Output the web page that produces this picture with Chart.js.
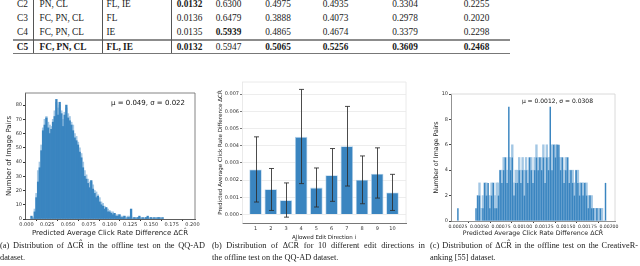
<!DOCTYPE html>
<html>
<head>
<meta charset="utf-8">
<script src="https://cdn.jsdelivr.net/npm/chart.js@4.4.1/dist/chart.umd.min.js"></script>
<style>
  html, body { margin:0; padding:0; background:#fff; }
  body { width:640px; height:266px; position:relative; overflow:hidden; font-family:"Liberation Serif", serif; color:#1a1a1a; }
  .cell { position:absolute; font-size:9.3px; line-height:10px; white-space:nowrap; }
  .rule { position:absolute; }
  canvas { position:absolute; }
  .cap { position:absolute; font-size:8.3px; line-height:9px; white-space:nowrap; }
  .cap.full { text-align:justify; text-align-last:justify; }
</style>
</head>
<body>
<div id="table"></div>
<canvas id="histA" width="205" height="155" style="left:0;top:87px"></canvas>
<canvas id="barB" width="198" height="167" style="left:212px;top:76px"></canvas>
<canvas id="histC" width="195" height="155" style="left:430px;top:86px"></canvas>

<div class="cap full" style="left:0;top:241px;width:205px">(a) Distribution of ΔCR̂ in the offline test on the QQ-AD</div>
<div class="cap" style="left:0;top:253px">dataset.</div>
<div class="cap full" style="left:212px;top:241px;width:213px">(b) Distribution of ΔCR̂ for 10 different edit directions in</div>
<div class="cap" style="left:212px;top:253px">the offline test on the QQ-AD dataset.</div>
<div class="cap full" style="left:430px;top:241px;width:208px">(c) Distribution of ΔCR̂ in the offline test on the CreativeR-</div>
<div class="cap" style="left:430px;top:253px">anking [55] dataset.</div>

<script>
Chart.defaults.font.family = "DejaVu Sans";
Chart.defaults.color = "#333";
Chart.defaults.animation = false;

// ---- table rows (top of page, cropped) ----
const TABLE_ROWS = [
  ["C2", "PN, CL",     "FL, IE", "0.0132", "0.6300", "0.4975", "0.4935", "0.3304", "0.2255"],
  ["C3", "FC, PN, CL", "FL",     "0.0136", "0.6479", "0.3888", "0.4073", "0.2978", "0.2020"],
  ["C4", "FC, PN, CL", "IE",     "0.0135", "0.5939", "0.4865", "0.4674", "0.3379", "0.2298"],
  ["C5", "FC, PN, CL", "FL, IE", "0.0132", "0.5947", "0.5065", "0.5256", "0.3609", "0.2468"]
];
const TABLE_BOLD = [[3], [], [4], [0, 1, 2, 3, 5, 6, 7, 8]];

// ---- (a) QQ-AD histogram, bin centres in 1e-3 ----
const A_BINS = [6,8,10,12,14,16,18,20,22,24,26,28,30,32,34,36,38,40,42,44,46,48,50,52,54,56,58,60,62,64,66,68,70,72,74,76,78,80,82,84,86,88,90,92,94,96,98,100,102,104,106,108,110,112,114,116,118,120,122,124,126,128,130,132,134,136,138,140,142,144,146,148,150,152,154,156,158,160,162,164];
const A_DARK = [2,0,5,15,26,36,48,62,66,71,64,60,63,68,72,84,73,82,74,65,73,80,71,69,66,62,57,55,52,47,43,36,30,28,25,22,27,21,18,15,16,12,10,9,7,8,5,5,4,3,4,2,2,3,1,1,2,0,1,1,7,0,1,0,1,2,0,1,0,1,2,0,1,0,1,0,1,1,0,1];
const A_LIGHT = [0,1,7,18,34,40,52,64,70,72,68,66,65,70,76,82,78,80,76,70,75,78,74,72,68,66,60,58,54,50,46,40,34,31,28,26,26,24,20,19,17,15,12,11,9,8,7,6,5,5,4,3,3,3,2,2,2,1,2,2,2,1,1,1,1,1,1,0,1,1,1,1,1,1,0,1,0,1,1,0];
const A_XTICKS = [0, 25, 50, 75, 100, 125, 150, 175, 200];

// ---- (b) per edit direction ----
const B_DIRS = [1, 2, 3, 4, 5, 6, 7, 8, 9, 10];
const B_MEAN = [0.00261, 0.00146, 0.00082, 0.00451, 0.00156, 0.00228, 0.00397, 0.00202, 0.00237, 0.00127];
const B_LOW  = [0.00072, 0.00023, -0.00016, 0.00179, 0.00043, 0.00076, 0.00165, 0.00062, 0.00095, 0.00023];
const B_HIGH = [0.00451, 0.00267, 0.00183, 0.00727, 0.00270, 0.00383, 0.00628, 0.00340, 0.00387, 0.00233];

// ---- (c) CreativeRanking histogram, bin centres in 1e-5 ----
const C_BINS = [25,46,48,50,52,54,56,58,60,62,64,66,68,70,72,74,76,78,80,82,84,86,88,90,92,94,96,98,100,102,104,106,108,110,112,114,116,118,120,122,124,126,128,130,132,134,136,138,140,142,144,146,148,150,152,154,156,158,160,162,164,166,168,170,172,174,176,178,180,182,184,186,188,190,192,194,196];
const C_DARK = [1,1,2,2,0,1,3,2,3,1,2,3,1,1,2,4,3,4,5,3,9,4,5,2,3,3,4,3,4,2,4,3,5,4,3,4,5,4,5,4,5,3,5,4,9,4,6,5,6,6,4,5,3,4,5,3,4,3,2,4,3,2,3,2,3,2,1,2,1,1,0,1,0,1,0,0,3];
const C_LIGHT = [0,0,2,3,1,2,3,3,2,2,3,3,2,3,3,4,4,5,5,4,5,5,6,3,4,4,5,4,5,4,5,4,5,5,4,5,6,5,5,5,6,5,6,5,5,6,6,6,6,5,5,5,4,5,5,4,4,4,3,4,4,3,3,3,3,3,2,2,2,1,1,1,1,0,1,0,0];

const DARK_BLUE = "#3a85c0";
const LIGHT_BLUE = "#a3c7e4";

// build table
const tableEl = document.getElementById("table");
const ROW_Y = [3.5, 17.5, 32, 46.5];
const COL_LEFT = [null, 39.5, 106.5];
const COL_CENTER = [22.5, null, null, 189.5, 228.5, 278, 335.5, 405, 476.5];
TABLE_ROWS.forEach((row, r) => {
  row.forEach((txt, c) => {
    const d = document.createElement("div");
    d.className = "cell";
    d.textContent = txt;
    if (TABLE_BOLD[r].includes(c)) d.style.fontWeight = "bold";
    d.style.top = (ROW_Y[r] - 5) + "px";
    if (COL_LEFT[c] != null) {
      d.style.left = COL_LEFT[c] + "px";
    } else {
      d.style.left = COL_CENTER[c] + "px";
      d.style.transform = "translateX(-50%)";
    }
    tableEl.appendChild(d);
  });
});
function rule(l, t, w, h, col) {
  const d = document.createElement("div");
  d.className = "rule";
  Object.assign(d.style, { left: l + "px", top: t + "px", width: w + "px", height: h + "px", background: col });
  tableEl.appendChild(d);
}
rule(13, 38.5, 497, 2, "#8c8c8c");
rule(13, 52.5, 497, 1, "#777");
rule(33, 0, 1, 53, "#555");
rule(101.5, 0, 1, 53, "#555");
rule(170.5, 0, 1, 53, "#555");

// plugins
const frame = {
  id: "frame",
  afterDraw(chart, args, opts) {
    const { ctx, chartArea: a } = chart;
    ctx.save();
    ctx.lineWidth = 0.8;
    ctx.strokeStyle = opts.color || "#555";
    ctx.beginPath();
    ctx.moveTo(a.left, a.top); ctx.lineTo(a.right, a.top); ctx.lineTo(a.right, a.bottom);
    ctx.stroke();
    ctx.restore();
  }
};
const note = {
  id: "note",
  afterDraw(chart, args, opts) {
    if (!opts.text) return;
    const { ctx, chartArea: a } = chart;
    ctx.save();
    ctx.font = opts.size + "px 'DejaVu Sans'";
    ctx.fillStyle = "#111";
    ctx.textAlign = "right";
    ctx.textBaseline = "middle";
    ctx.fillText(opts.text, a.right - opts.dx, a.top + opts.dy);
    ctx.restore();
  }
};
const errorBars = {
  id: "errorBars",
  afterDatasetsDraw(chart) {
    const { ctx, scales: { x, y } } = chart;
    ctx.save();
    ctx.strokeStyle = "rgba(45,45,45,0.85)";
    ctx.lineWidth = 1;
    B_DIRS.forEach((d, i) => {
      const px = Math.round(x.getPixelForValue(d)) + 0.5;
      const lo = y.getPixelForValue(B_LOW[i]);
      const hi = y.getPixelForValue(B_HIGH[i]);
      ctx.beginPath();
      ctx.moveTo(px, lo); ctx.lineTo(px, hi);
      ctx.moveTo(px - 2.5, lo); ctx.lineTo(px + 2.5, lo);
      ctx.moveTo(px - 2.5, hi); ctx.lineTo(px + 2.5, hi);
      ctx.stroke();
    });
    ctx.restore();
  }
};

function fixW(w) { return (s) => { s.width = w; }; }
function fixH(h) { return (s) => { s.height = h; }; }
const tickFont = { size: 5 };

// (a)
new Chart(document.getElementById("histA"), {
  type: "bar",
  data: {
    datasets: [
      { data: A_BINS.map((b, i) => ({ x: b, y: A_DARK[i] })), backgroundColor: DARK_BLUE, grouped: false, barPercentage: 1, categoryPercentage: 1 },
      { data: A_BINS.map((b, i) => ({ x: b, y: A_LIGHT[i] })), backgroundColor: LIGHT_BLUE, grouped: false, barPercentage: 1, categoryPercentage: 1 }
    ]
  },
  options: {
    responsive: false,
    layout: { padding: { top: 6, right: 10, left: 0, bottom: 0 } },
    plugins: { legend: { display: false }, tooltip: { enabled: false },
      note: { text: "μ = 0.049, σ = 0.022", size: 7, dx: 10, dy: 10 }, frame: { color: "#666" } },
    scales: {
      x: {
        type: "linear", offset: false, min: -1.8, max: 203,
        afterFit: fixH(23),
        afterBuildTicks: (s) => { s.ticks = A_XTICKS.map(v => ({ value: v })); },
        ticks: { font: tickFont, padding: 1, maxRotation: 0, autoSkip: false, callback: (v) => (v / 1000).toFixed(3) },
        grid: { drawOnChartArea: false, tickLength: 2, color: "#333" },
        border: { color: "#333", width: 0.8 },
        title: { display: true, text: "Predicted Average Click Rate Difference ΔCR̂", font: { size: 7 }, color: "#222", padding: { top: 0, bottom: 5 } }
      },
      y: {
        min: 0, max: 88.5,
        afterFit: fixW(25),
        ticks: { font: tickFont, padding: 1, stepSize: 10, includeBounds: false },
        grid: { drawOnChartArea: false, tickLength: 2, color: "#333" },
        border: { color: "#333", width: 0.8 },
        title: { display: true, text: "Number of Image Pairs", font: { size: 7 }, color: "#222", padding: { top: 5, bottom: 0 } }
      }
    }
  },
  plugins: [frame, note]
});

// (b)
new Chart(document.getElementById("barB"), {
  type: "bar",
  data: {
    datasets: [{
      data: B_DIRS.map((d, i) => ({ x: d, y: B_MEAN[i] })),
      backgroundColor: DARK_BLUE, borderColor: "#b3d1ea", borderWidth: 0.8,
      barPercentage: 0.82, categoryPercentage: 1
    }]
  },
  options: {
    responsive: false,
    layout: { padding: { top: 6, right: 4, left: 0, bottom: 0 } },
    plugins: { legend: { display: false }, tooltip: { enabled: false }, frame: { color: "#e4e4e4" } },
    scales: {
      x: {
        type: "linear", offset: false, min: 0.11, max: 10.89,
        afterFit: fixH(20),
        ticks: { font: tickFont, stepSize: 1, includeBounds: false, padding: 3, maxRotation: 0, autoSkip: false },
        grid: { display: false, drawTicks: false, tickLength: 0 },
        border: { color: "#555", width: 0.8 },
        title: { display: true, text: "Allowed Edit Direction i", font: { size: 5.5 }, color: "#222", padding: { top: 0, bottom: 2 } }
      },
      y: {
        min: -0.0005, max: 0.0077,
        afterFit: fixW(30),
        ticks: { font: tickFont, stepSize: 0.001, includeBounds: false, padding: 1, callback: (v) => v.toFixed(3) },
        grid: { color: "#e8e8e8", tickColor: "#555", tickLength: 2, lineWidth: 0.8 },
        border: { color: "#e4e4e4", width: 0.8 },
        title: { display: true, text: "Predicted Average Click Rate Difference ΔCR̂", font: { size: 5.6 }, color: "#222", padding: { top: 5, bottom: 0 } }
      }
    }
  },
  plugins: [frame, errorBars]
});

// (c)
new Chart(document.getElementById("histC"), {
  type: "bar",
  data: {
    datasets: [
      { data: C_BINS.map((b, i) => ({ x: b, y: C_DARK[i] })), backgroundColor: DARK_BLUE, grouped: false, barPercentage: 0.85, categoryPercentage: 1 },
      { data: C_BINS.map((b, i) => ({ x: b, y: C_LIGHT[i] })), backgroundColor: LIGHT_BLUE, grouped: false, barPercentage: 1, categoryPercentage: 1 }
    ]
  },
  options: {
    responsive: false,
    layout: { padding: { top: 8, right: 10, left: 0, bottom: 0 } },
    plugins: { legend: { display: false }, tooltip: { enabled: false },
      note: { text: "μ = 0.0012, σ = 0.0308", size: 6, dx: 22, dy: 7.5 }, frame: { color: "#d0d0d0" } },
    scales: {
      x: {
        type: "linear", offset: false, min: 17, max: 207,
        afterFit: fixH(20),
        ticks: { font: { size: 4.6 }, stepSize: 25, includeBounds: false, padding: 1, maxRotation: 0, autoSkip: false, callback: (v) => (v / 100000).toFixed(5) },
        grid: { drawOnChartArea: false, tickLength: 2, color: "#444" },
        border: { color: "#777", width: 0.8 },
        title: { display: true, text: "Predicted Average Click Rate Difference ΔCR̂", font: { size: 6.3 }, color: "#222", padding: { top: 0, bottom: 4 } }
      },
      y: {
        min: 0, max: 10,
        afterFit: fixW(21),
        ticks: { font: tickFont, stepSize: 2, padding: 1 },
        grid: { drawOnChartArea: false, tickLength: 2, color: "#444" },
        border: { color: "#777", width: 0.8 },
        title: { display: true, text: "Number of Image Pairs", font: { size: 6.3 }, color: "#222", padding: { top: 3, bottom: 0 } }
      }
    }
  },
  plugins: [frame, note]
});
</script>
</body>
</html>
